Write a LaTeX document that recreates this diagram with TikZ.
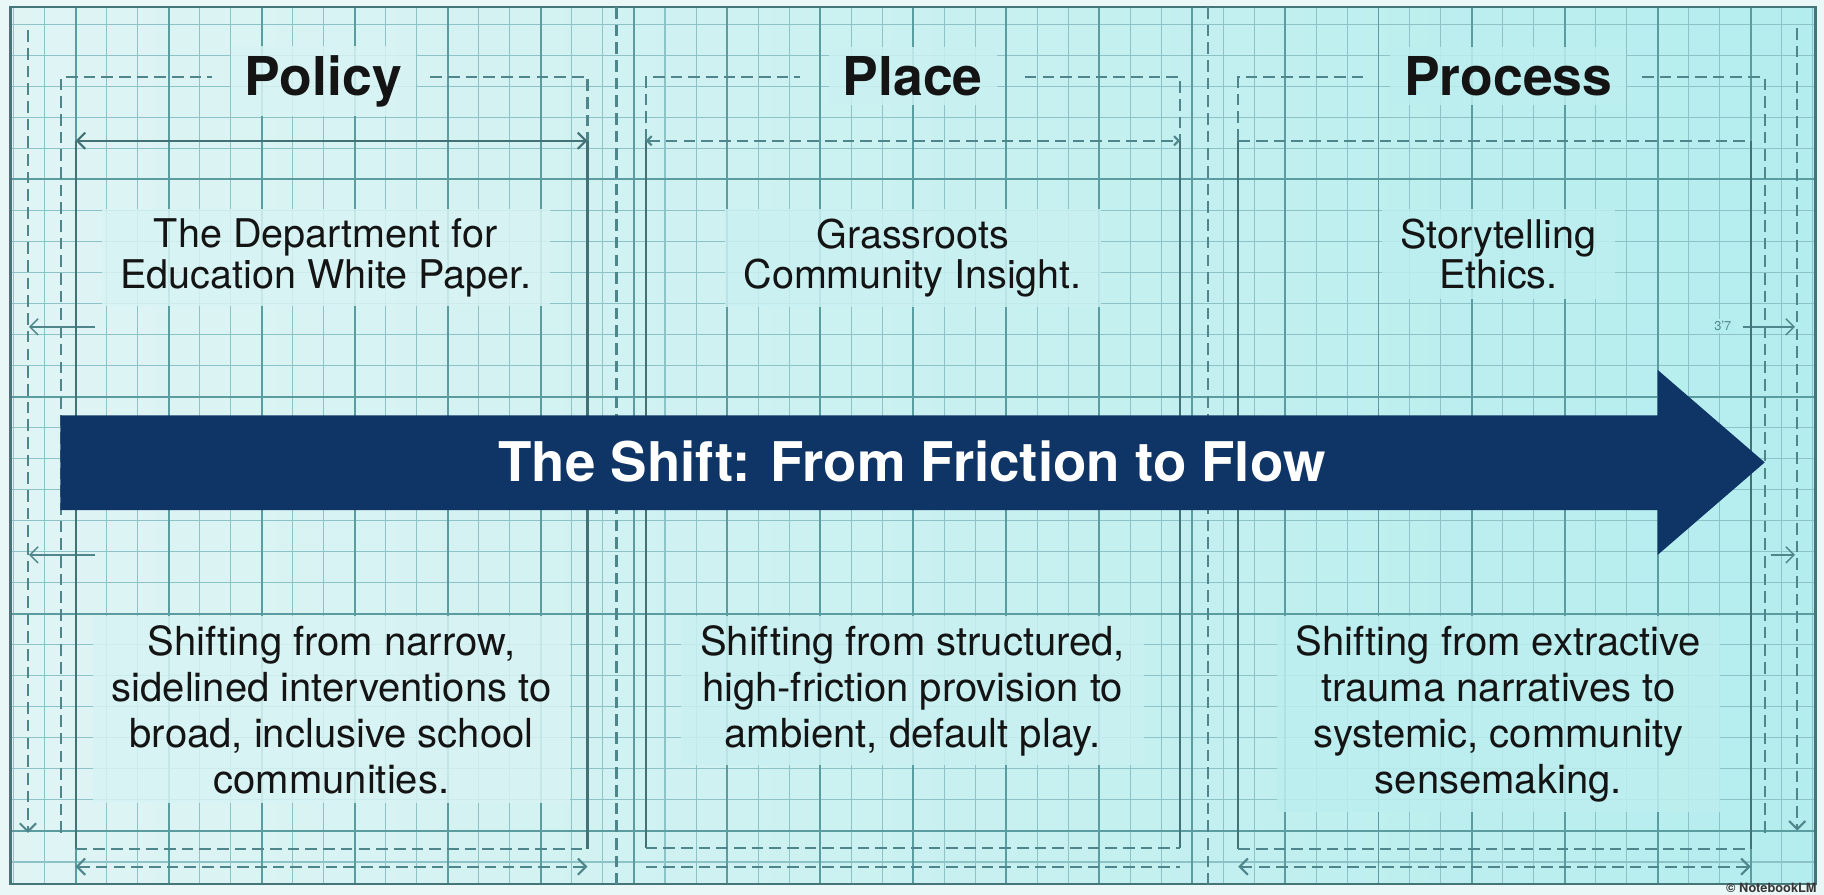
\documentclass[tikz,border=0pt]{standalone}
\usepackage{fontspec}
\setmainfont{TeX Gyre Heros}
\usetikzlibrary{arrows.meta}
\definecolor{outside}{HTML}{E9F7F7}
\definecolor{bgL}{HTML}{E0F4F4}
\definecolor{bgR}{HTML}{B4EDEE}
\definecolor{gridmin}{HTML}{8DC3C6}
\definecolor{gridmaj}{HTML}{5B9CA1}
\definecolor{framec}{HTML}{4F868B}
\definecolor{navy}{HTML}{0F3466}
\definecolor{ink}{HTML}{141414}
\begin{document}
\begin{tikzpicture}[x=0.5pt,y=-0.5pt,
  minorline/.style={draw=gridmin, line width=0.45pt},
  majorline/.style={draw=gridmaj, line width=0.85pt},
  dashframe/.style={draw=framec, line width=0.9pt, dash pattern=on 5pt off 2.6pt},
  solidframe/.style={draw=framec!85!black, line width=0.9pt},
  dimtips/.style={{Straight Barb[length=3.5pt,width=7pt]}-{Straight Barb[length=3.5pt,width=7pt]}},
  smalltips/.style={{Straight Barb[length=2pt,width=4pt]}-{Straight Barb[length=2pt,width=4pt]}},
  endtip/.style={-{Straight Barb[length=3.5pt,width=7pt]}},
  patch/.style={fill=#1, fill opacity=0.85, text opacity=1},
  heading/.style={font=\fontsize{23}{26}\selectfont\bfseries, text=ink, anchor=base, inner xsep=6pt, inner ysep=4pt},
  toptext/.style={font=\fontsize{17}{17.5}\selectfont, text=ink, align=center, anchor=north, inner xsep=8pt, inner ysep=4pt},
  bottext/.style={font=\fontsize{17.2}{19.85}\selectfont, text=ink, align=center, anchor=north, inner xsep=8pt, inner ysep=4pt},
]
\useasboundingbox (0,0) rectangle (1568,769);
\fill[outside] (0,0) rectangle (1568,769);
\shade[left color=bgL, right color=bgR] (9,6) rectangle (1561,760);
% grid
\begin{scope}
\clip (9,6) rectangle (1561,760);
\foreach \i in {-2,...,56} {
  \pgfmathsetmacro\xx{65+26.667*\i}
  \draw[minorline] (\xx,6) -- (\xx,760);
}
\foreach \k in {-12,...,16} {
  \pgfmathsetmacro\yy{341+26.667*\k}
  \draw[minorline] (9,\yy) -- (1561,\yy);
}
\foreach \i in {0,...,18} {
  \pgfmathsetmacro\xx{65+80*\i}
  \draw[majorline] (\xx,6) -- (\xx,760);
}
\foreach \yy in {154.3,341,527.7,714.3} {
  \draw[majorline] (9,\yy) -- (1561,\yy);
}
\end{scope}
\draw[draw=gridmaj!75!black, line width=1.2pt] (9,6) rectangle (1561,760);

% column dividers and outer dimension lines
\coordinate (d1t) at (530,6);      \coordinate (d1b) at (530,760);
\coordinate (d2t) at (1038.5,6);   \coordinate (d2b) at (1038.5,760);
\draw[dashframe] (d1t) -- (d1b);
\draw[dashframe] (d2t) -- (d2b);
\coordinate (fl1) at (24,26);   \coordinate (fl2) at (24,716);
\coordinate (fr1) at (1545,24); \coordinate (fr2) at (1545,714);
\draw[dashframe, endtip] (fl1) -- (fl2);
\draw[dashframe, endtip] (fr1) -- (fr2);

% small dimension ticks at the sides
\coordinate (lt1a) at (82,281);  \coordinate (lt1b) at (25,281);
\coordinate (lt2a) at (82,477);  \coordinate (lt2b) at (25,477);
\draw[framec, line width=0.6pt, endtip] (lt1a) -- (lt1b);
\draw[framec, line width=0.6pt, endtip] (lt2a) -- (lt2b);
\coordinate (rt1a) at (1498,281); \coordinate (rt1b) at (1543,281);
\coordinate (rt2a) at (1522,477); \coordinate (rt2b) at (1543,477);
\draw[framec, line width=0.6pt, endtip] (rt1a) -- (rt1b);
\draw[framec, line width=0.6pt, endtip] (rt2a) -- (rt2b);
\node[font=\fontsize{5.5}{6}\selectfont, text=framec, fill=bgR, inner sep=1pt] (dimlabel) at (1481,280) {3'7};

% ---------- column 1 frames ----------
\draw[dashframe] (52.6,716) -- (52.6,66.5) -- (182,66.5);
\draw[dashframe] (370,66.5) -- (505,66.5) -- (505,121);
\draw[solidframe] (65,121) -- (65,730);
\draw[solidframe] (505,121) -- (505,730);
\draw[solidframe, dimtips] (65,121) -- (505,121);
\draw[dashframe] (65,730) -- (505,730);
\draw[dashframe, dimtips] (65,745) -- (505,745);

% ---------- column 2 frames ----------
\draw[dashframe] (555,121) -- (555,66.5) -- (688,66.5);
\draw[dashframe] (881,66.5) -- (1014.5,66.5) -- (1014.5,121);
\draw[solidframe] (555,121) -- (555,729);
\draw[solidframe] (1014.5,121) -- (1014.5,729);
\draw[dashframe, smalltips] (555,121) -- (1014.5,121);
\draw[dashframe] (555,729) -- (1014.5,729);
\draw[dashframe] (555,745) -- (1014.5,745);

% ---------- column 3 frames ----------
\draw[dashframe] (1064.5,121) -- (1064.5,66.5) -- (1175,66.5);
\draw[dashframe] (1411.6,66.5) -- (1517,66.5) -- (1517,716);
\draw[solidframe] (1064.5,121) -- (1064.5,730);
\draw[solidframe] (1505,121) -- (1505,730);
\draw[dashframe] (1064.5,121) -- (1505,121);
\draw[dashframe] (1064.5,730) -- (1505,730);
\draw[dashframe, dimtips] (1064.5,745) -- (1505,745);

% ---------- headings ----------
\node[heading, patch=bgL!82!bgR] (h1) at (278,82) {Policy};
\node[heading, patch=bgL!50!bgR] (h2) at (784.6,82) {Place};
\node[heading, patch=bgL!20!bgR] (h3) at (1296.6,82) {Process};

% ---------- top texts ----------
\node[toptext, patch=bgL!82!bgR] (t1) at (280,179.5) {The Department for\\Education White Paper.};
\node[toptext, patch=bgL!50!bgR] (t2) at (784.6,179.5) {Grassroots\\Community Insight.};
\node[toptext, patch=bgL!20!bgR] (t3) at (1288,179.5) {Storytelling\\Ethics.};

% ---------- big arrow ----------
\fill[navy] (52,357) -- (1425,357) -- (1425,318) -- (1517,397.5) -- (1425,477) -- (1425,438.5) -- (52,438.5) -- cycle;
\node[font=\fontsize{23.5}{26}\selectfont\bfseries, text=white, anchor=base, inner sep=0pt] (shift) at (784,414) {The Shift: From Friction to Flow};

% ---------- bottom texts ----------
\node[bottext, patch=bgL!82!bgR] (b1) at (285,529) {Shifting from narrow,\\sidelined interventions to\\broad, inclusive school\\communities.};
\node[bottext, patch=bgL!50!bgR] (b2) at (784.5,529) {Shifting from structured,\\high-friction provision to\\ambient, default play.};
\node[bottext, patch=bgL!20!bgR] (b3) at (1288,529) {Shifting from extractive\\trauma narratives to\\systemic, community\\sensemaking.};

% watermark
\node[font=\fontsize{5.5}{6}\selectfont\bfseries, text=ink!85, anchor=base east, inner sep=0pt] (wm) at (1562,767) {© NotebookLM};
\end{tikzpicture}
\end{document}
